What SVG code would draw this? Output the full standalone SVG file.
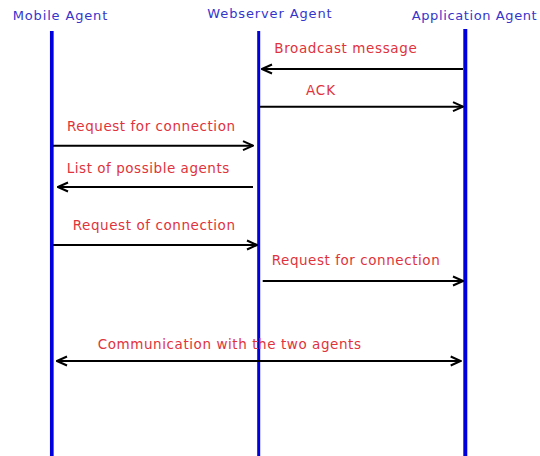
<svg xmlns="http://www.w3.org/2000/svg" width="540" height="456" viewBox="0 0 540 456">
<style>
.hdr{font-family:"DejaVu Sans","Liberation Sans",sans-serif;font-size:13px;fill:#3535cc}
.msg{font-family:"DejaVu Sans","Liberation Sans",sans-serif;font-size:13.5px;fill:#e0333c}
.life{stroke:#0000dd;fill:none}
.arr{stroke:#000;stroke-width:2;fill:none}
</style>
<defs>
<marker id="ah" viewBox="0 0 12 12" refX="11" refY="6" markerWidth="12" markerHeight="12" markerUnits="userSpaceOnUse" orient="auto-start-reverse">
<path d="M1,1.5 L11,6 L1,10.5" fill="none" stroke="#000" stroke-width="2"/>
</marker>
</defs>
<rect width="540" height="456" fill="#fff"/>
<g id="mobile">
<text class="hdr" x="12.7" y="20" textLength="94.6" lengthAdjust="spacing">Mobile Agent</text>
<line class="life" x1="51.8" y1="31" x2="51.8" y2="456" stroke-width="3.7"/>
</g>
<g id="webserver">
<text class="hdr" x="207.3" y="18" textLength="124.4" lengthAdjust="spacing">Webserver Agent</text>
<line class="life" x1="258.7" y1="31" x2="258.7" y2="456" stroke-width="3"/>
</g>
<g id="application">
<text class="hdr" x="411.7" y="20" textLength="125" lengthAdjust="spacing">Application Agent</text>
<line class="life" x1="465.3" y1="29" x2="465.3" y2="456" stroke-width="4"/>
</g>
<g id="connectors">
<line class="arr" x1="463" y1="69" x2="262" y2="69" marker-end="url(#ah)"/>
<text class="msg" x="274.3" y="53.3" textLength="142.4" lengthAdjust="spacing">Broadcast message</text>
<line class="arr" x1="260" y1="106.7" x2="463" y2="106.7" marker-end="url(#ah)"/>
<text class="msg" x="306" y="95" textLength="29" lengthAdjust="spacing">ACK</text>
<line class="arr" x1="53" y1="145.7" x2="253" y2="145.7" marker-end="url(#ah)"/>
<text class="msg" x="67" y="130.7" textLength="168" lengthAdjust="spacing">Request for connection</text>
<line class="arr" x1="253" y1="187" x2="58" y2="187" marker-end="url(#ah)"/>
<text class="msg" x="66.7" y="173" textLength="162.6" lengthAdjust="spacing">List of possible agents</text>
<line class="arr" x1="53" y1="245" x2="257" y2="245" marker-end="url(#ah)"/>
<text class="msg" x="72.7" y="230" textLength="162.3" lengthAdjust="spacing">Request of connection</text>
<line class="arr" x1="262.7" y1="281" x2="463" y2="281" marker-end="url(#ah)"/>
<text class="msg" x="271.7" y="265" textLength="168" lengthAdjust="spacing">Request for connection</text>
<line class="arr" x1="57" y1="361" x2="460.7" y2="361" marker-start="url(#ah)" marker-end="url(#ah)"/>
<text class="msg" x="97.7" y="349" textLength="263.3" lengthAdjust="spacing">Communication with the two agents</text>
</g>
</svg>
